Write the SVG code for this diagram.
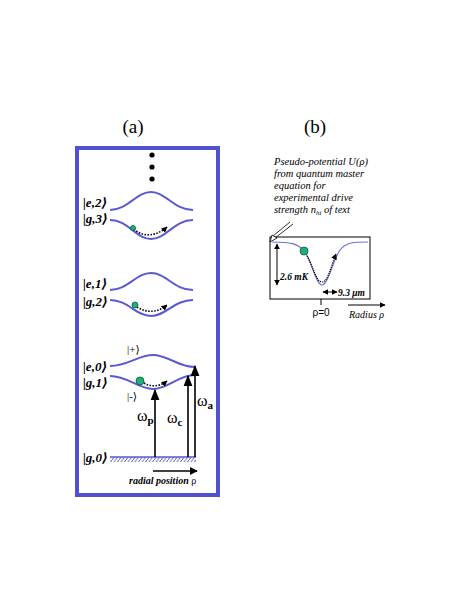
<svg xmlns="http://www.w3.org/2000/svg" width="469" height="607" viewBox="0 0 469 607">
<style>
.lvl{fill:none;stroke:#5a5ad2;stroke-width:2}
.dot{fill:none;stroke:#000;stroke-width:1.6;stroke-dasharray:1.5 1.5}
.ball{fill:#1fb07a;stroke:#0a5a3a;stroke-width:0.8}
.arr{stroke:#000;stroke-width:1.6;fill:none}
</style>
<defs>
<marker id="ah" viewBox="0 0 10 10" refX="9" refY="5" markerWidth="8" markerHeight="8" markerUnits="userSpaceOnUse" orient="auto">
<path d="M0,0 L10,5 L0,10 z" fill="#000"/>
</marker>
<marker id="ahb" viewBox="0 0 10 10" refX="9" refY="5" markerWidth="11" markerHeight="11" markerUnits="userSpaceOnUse" orient="auto">
<path d="M0,1 L10,5 L0,9 z" fill="#000"/>
</marker>
<marker id="ahs" viewBox="0 0 10 10" refX="9" refY="5" markerWidth="6" markerHeight="6" markerUnits="userSpaceOnUse" orient="auto">
<path d="M0,0 L10,5 L0,10 z" fill="#000"/>
</marker>
<marker id="ahss" viewBox="0 0 10 10" refX="1" refY="5" markerWidth="6" markerHeight="6" markerUnits="userSpaceOnUse" orient="auto">
<path d="M10,0 L0,5 L10,10 z" fill="#000"/>
</marker>
<pattern id="hatch" width="3.5" height="5" patternUnits="userSpaceOnUse">
<line x1="0" y1="5" x2="3.5" y2="0" stroke="#5a5ad2" stroke-width="1"/>
</pattern>
</defs>
<rect width="469" height="607" fill="#fff"/>

<text x="133" y="133" text-anchor="middle" font-family="'Liberation Serif',serif" font-size="19">(a)</text>
<text x="315" y="133" text-anchor="middle" font-family="'Liberation Serif',serif" font-size="19">(b)</text>

<g id="panel-a">
<rect x="77" y="148" width="141" height="347" fill="none" stroke="#5050d0" stroke-width="4"/>
<circle cx="152" cy="155" r="2.6" fill="#000"/>
<circle cx="152" cy="167" r="2.6" fill="#000"/>
<circle cx="152" cy="179" r="2.6" fill="#000"/>
</g>

<g font-family="'Liberation Serif','DejaVu Serif',serif" font-style="italic" font-weight="bold" font-size="13" fill="#000">
<g id="level-e2">
<path class="lvl" d="M110,210 C128,210 136,192 151,192 C166,192 174,210 193,210"/>
<text x="83" y="207">|e,2⟩</text>
</g>
<g id="level-g3">
<path class="lvl" d="M110,220 C128,220 136,239 151,239 C166,239 174,220 193,220"/>
<text x="83" y="223">|g,3⟩</text>
<path class="dot" d="M134,229 C143,238 157,236 167,227" marker-end="url(#ahs)"/>
<circle class="ball" cx="133" cy="228" r="2.5"/>
</g>

<g id="level-e1">
<path class="lvl" d="M110,290 C128,290 136,273 151,273 C166,273 174,290 193,290"/>
<text x="83" y="288">|e,1⟩</text>
</g>
<g id="level-g2">
<path class="lvl" d="M110,300 C128,300 136,316 151,316 C166,316 174,300 193,300"/>
<text x="83" y="306">|g,2⟩</text>
<path class="dot" d="M137,307 C146,313 158,313 167,305" marker-end="url(#ahs)"/>
<circle class="ball" cx="135" cy="305" r="3"/>
</g>

<g id="level-e0">
<path class="lvl" d="M110,366 C128,366 138,355 153,355 C168,355 178,367 195,367"/>
<text x="83" y="371">|e,0⟩</text>
<text x="127" y="353" font-style="normal" font-weight="normal" font-size="11">|+⟩</text>
</g>
<g id="level-g1">
<path class="lvl" d="M110,376 C128,376 138,389 153,389 C168,389 178,375 195,375"/>
<text x="83" y="387">|g,1⟩</text>
<text x="127" y="400" font-style="normal" font-weight="normal" font-size="11">|-⟩</text>
<path class="dot" d="M144,383 C150,387 160,387 167,381" marker-end="url(#ahs)"/>
<circle class="ball" cx="140" cy="381" r="4"/>
</g>

<g id="level-g0">
<line x1="110" y1="457" x2="196" y2="457" stroke="#5a5ad2" stroke-width="1.5"/>
<rect x="110" y="457" width="86" height="5" fill="url(#hatch)"/>
<text x="83" y="462">|g,0⟩</text>
</g>
</g>

<g id="connectors">
<line class="arr" x1="155" y1="457" x2="155" y2="390" marker-end="url(#ahb)"/>
<line class="arr" x1="188" y1="457" x2="188" y2="376" marker-end="url(#ahb)"/>
<line class="arr" x1="195" y1="457" x2="195" y2="366" marker-end="url(#ahb)"/>
<line class="arr" x1="153" y1="471" x2="197" y2="471" marker-end="url(#ah)" stroke-width="1.2"/>
</g>

<g id="arrow-labels" font-family="'Liberation Serif',serif">
<text x="137" y="421" font-size="16">ω<tspan font-size="11" font-weight="bold" dy="3">p</tspan></text>
<text x="167" y="423" font-size="16">ω<tspan font-size="11" font-weight="bold" dy="3">c</tspan></text>
<text x="197" y="406" font-size="16">ω<tspan font-size="11" font-weight="bold" dy="3">a</tspan></text>
<text x="129" y="484" font-style="italic" font-weight="bold" font-size="10">radial position <tspan font-style="normal" font-weight="normal">ρ</tspan></text>
</g>

<g id="panel-b-text" font-family="'Liberation Serif',serif" font-style="italic" font-size="10.5" fill="#000">
<text x="274" y="165">Pseudo-potential U(ρ)</text>
<text x="274" y="177">from quantum master</text>
<text x="274" y="189">equation for</text>
<text x="274" y="201">experimental drive</text>
<text x="274" y="213">strength n<tspan font-size="7" dy="2">hi</tspan><tspan dy="-2"> of text</tspan></text>
</g>

<g id="panel-b">
<rect x="270" y="237" width="100" height="62" fill="none" stroke="#000" stroke-width="1"/>
<path d="M272,242 C290,242 298,243 305,252 C312,262 316,285 322,285 C328,285 333,260 340,250 C346,242 355,242 368,242" fill="none" stroke="#7070e0" stroke-width="1.2"/>
<path d="M307,256 C313,266 316,282 322,282 C328,282 331,266 336,254" fill="none" stroke="#000" stroke-width="1.2" stroke-dasharray="1.2 1" marker-end="url(#ahs)"/>
<circle class="ball" cx="304" cy="251" r="4"/>
<line x1="277" y1="244" x2="277" y2="285" stroke="#000" stroke-width="1" marker-start="url(#ahss)" marker-end="url(#ahs)"/>
<text x="280" y="280" font-family="'Liberation Serif',serif" font-style="italic" font-weight="bold" font-size="9.5">2.6 mK</text>
<line x1="323" y1="292" x2="337" y2="292" stroke="#000" stroke-width="1" marker-start="url(#ahss)" marker-end="url(#ahs)"/>
<text x="338" y="296" font-family="'Liberation Serif',serif" font-style="italic" font-weight="bold" font-size="9.5">9.3 μm</text>
<line x1="321" y1="299" x2="321" y2="305" stroke="#000" stroke-width="1"/>
<text x="321" y="316" text-anchor="middle" font-family="'Liberation Sans',sans-serif" font-size="10">ρ=0</text>
<line x1="348" y1="305" x2="385" y2="305" stroke="#000" stroke-width="1" marker-end="url(#ahs)"/>
<text x="349" y="318" font-family="'Liberation Serif',serif" font-style="italic" font-size="10">Radius ρ</text>
<path d="M293,224 L275,238 M290,222 L273,236" stroke="#000" stroke-width="0.8" fill="none"/>
<path d="M270,242 L277,238 L272,235 z" fill="#fff" stroke="#000" stroke-width="0.8"/>
</g>
</svg>
